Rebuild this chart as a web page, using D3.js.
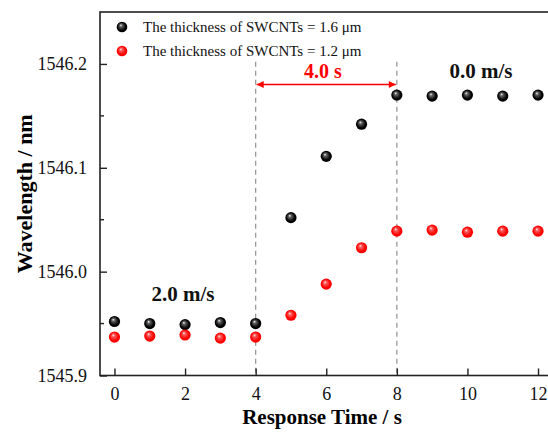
<!DOCTYPE html>
<html><head><meta charset="utf-8">
<script src="https://cdn.jsdelivr.net/npm/d3@7"></script>
<style>body{margin:0;background:#fff}svg{display:block}text{font-family:"Liberation Serif","Times New Roman",serif}</style>
</head><body><svg id="c" width="548" height="432"></svg>
<script>
const times = [0,1,2,3,4,5,6,7,8,9,10,11,12];
const thick16 = [1545.952,1545.950,1545.949,1545.951,1545.950,1546.052,1546.111,1546.142,1546.170,1546.169,1546.170,1546.169,1546.170];
const thick12 = [1545.937,1545.938,1545.939,1545.936,1545.937,1545.958,1545.988,1546.023,1546.039,1546.040,1546.038,1546.039,1546.039];
const seriesNames = ["The thickness of SWCNTs = 1.6 \u03bcm","The thickness of SWCNTs = 1.2 \u03bcm"];
const xTicks = [0,2,4,6,8,10,12];
const yTicks = [1545.9,1546.0,1546.1,1546.2];
const yMinor = [1545.95,1546.05,1546.15];
const markLines = [4,8];

const svg = d3.select("#c");
const L=100, T=12, B=375.5, R=552.5;
const x = d3.scaleLinear().domain([-0.41,12.41]).range([L,R]);
const y = d3.scaleLinear().domain([1545.9,1546.25]).range([B,T]);

const defs = svg.append("defs");
function grad(id, base, mid){
  const g = defs.append("radialGradient").attr("id",id).attr("cx","0.5").attr("cy","0.5").attr("r","0.55").attr("fx","0.38").attr("fy","0.32");
  g.append("stop").attr("offset","0").attr("stop-color","#fff");
  g.append("stop").attr("offset","0.22").attr("stop-color",mid);
  g.append("stop").attr("offset","0.7").attr("stop-color",base);
  g.append("stop").attr("offset","1").attr("stop-color",base);
}
grad("gk","#000","#666");
grad("gr","#f00","#ff6060");
const marker = defs.append("marker").attr("id","ah").attr("viewBox","0 0 10 10").attr("refX","10").attr("refY","5")
  .attr("markerWidth",9).attr("markerHeight",7).attr("markerUnits","userSpaceOnUse").attr("orient","auto-start-reverse");
marker.append("path").attr("d","M0,0L10,5L0,10z").attr("fill","#f00");

// dashed lines
svg.selectAll(".dl").data(markLines).enter().append("line")
  .attr("x1",d=>x(d)).attr("x2",d=>x(d)).attr("y1",y(1546.202)).attr("y2",B)
  .attr("stroke","#999").attr("stroke-width",1.3).attr("stroke-dasharray","5,4");

// frame
svg.append("rect").attr("x",L).attr("y",T).attr("width",R-L).attr("height",B-T).attr("fill","none").attr("stroke","#222").attr("stroke-width",1.6);

// axes ticks (inward)
const xa = svg.append("g").attr("transform",`translate(0,${B})`).call(d3.axisBottom(x).tickValues(xTicks).tickSize(-7).tickPadding(12).tickFormat(d3.format("d")));
xa.select(".domain").remove();
xa.selectAll("line").attr("stroke","#222").attr("stroke-width",1.4);
xa.selectAll("text").attr("font-size",18).attr("fill","#111").attr("font-family","Liberation Serif");
const ya = svg.append("g").attr("transform",`translate(${L},0)`).call(d3.axisLeft(y).tickValues(yTicks).tickSize(-7).tickPadding(13).tickFormat(d3.format(".1f")));
ya.select(".domain").remove();
ya.selectAll("line").attr("stroke","#222").attr("stroke-width",1.4);
ya.selectAll("text").attr("font-size",18).attr("fill","#111").attr("font-family","Liberation Serif");
svg.append("g").selectAll("line").data(yMinor).enter().append("line")
  .attr("x1",L).attr("x2",L+4).attr("y1",d=>y(d)).attr("y2",d=>y(d)).attr("stroke","#222").attr("stroke-width",1.4);

// axis titles
svg.append("text").attr("x",322).attr("y",424).attr("text-anchor","middle").attr("font-size",21).attr("font-weight","bold").text("Response Time / s");
svg.append("text").attr("transform",`translate(32,${(T+B)/2}) rotate(-90)`).attr("text-anchor","middle").attr("font-size",22).attr("font-weight","bold").text("Wavelength / nm");

// points
const data = [{vals:thick16, g:"url(#gk)"},{vals:thick12, g:"url(#gr)"}];
data.forEach(s=>{
  svg.append("g").selectAll("circle").data(times).enter().append("circle")
    .attr("cx",d=>x(d)).attr("cy",(d,i)=>y(s.vals[i])).attr("r",5.6).attr("fill",s.g);
});

// legend
seriesNames.forEach((n,i)=>{
  const ly = 27 + i*24;
  svg.append("circle").attr("cx",122).attr("cy",ly).attr("r",5.3).attr("fill",data[i].g);
  svg.append("text").attr("x",143).attr("y",ly+5).attr("font-size",15).attr("fill","#111").text(n);
});

// annotations
svg.append("line").attr("x1",x(4)+1).attr("x2",x(8)-1).attr("y1",84.5).attr("y2",84.5)
  .attr("stroke","#f00").attr("stroke-width",1.6).attr("marker-end","url(#ah)").attr("marker-start","url(#ah)");
svg.append("text").attr("x",323).attr("y",78).attr("text-anchor","middle").attr("font-size",20).attr("font-weight","bold").attr("fill","#f00").text("4.0 s");
svg.append("text").attr("x",481).attr("y",78).attr("text-anchor","middle").attr("font-size",21).attr("font-weight","bold").attr("fill","#111").text("0.0 m/s");
svg.append("text").attr("x",183).attr("y",301).attr("text-anchor","middle").attr("font-size",21).attr("font-weight","bold").attr("fill","#111").text("2.0 m/s");
</script></body></html>
